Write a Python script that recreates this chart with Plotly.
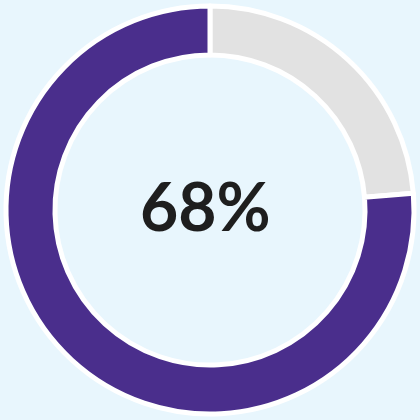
import plotly.graph_objects as go

# slice shares as drawn in the ring, and the figure shown in the middle
labels = ['Remaining', 'Filled']
values = [23.7, 76.3]
center_text = '68%'

cols = {
    'purple': 'rgb(74,46,140)',
    'grey': 'rgb(226,226,226)',
    'bg': 'rgb(232,246,253)',
    'white': 'rgb(255,255,255)',
    'text': 'rgb(30,30,30)',
}

fig = go.Figure(
    go.Pie(
        labels=labels,
        values=values,
        hole=0.76,
        sort=False,
        direction='clockwise',
        rotation=0,
        marker=dict(
            colors=[cols['grey'], cols['purple']],
            line=dict(color=cols['white'], width=5),
        ),
        textinfo='none',
        hoverinfo='label+percent',
        showlegend=False,
    )
)

fig.add_annotation(
    x=0.49, y=0.51,
    xref='paper', yref='paper',
    text='<b>' + center_text + '</b>',
    showarrow=False,
    font=dict(family='Lato', size=66, color=cols['text']),
)

fig.update_layout(
    width=420,
    height=420,
    margin=dict(l=6, r=6, t=6, b=6),
    paper_bgcolor=cols['bg'],
    plot_bgcolor=cols['bg'],
)

# drop the default page margin so the chart fills the window
fig.write_html(
    'out.html',
    config={'displayModeBar': False},
    post_script="document.body.style.margin='0';document.body.style.overflow='hidden';",
)
